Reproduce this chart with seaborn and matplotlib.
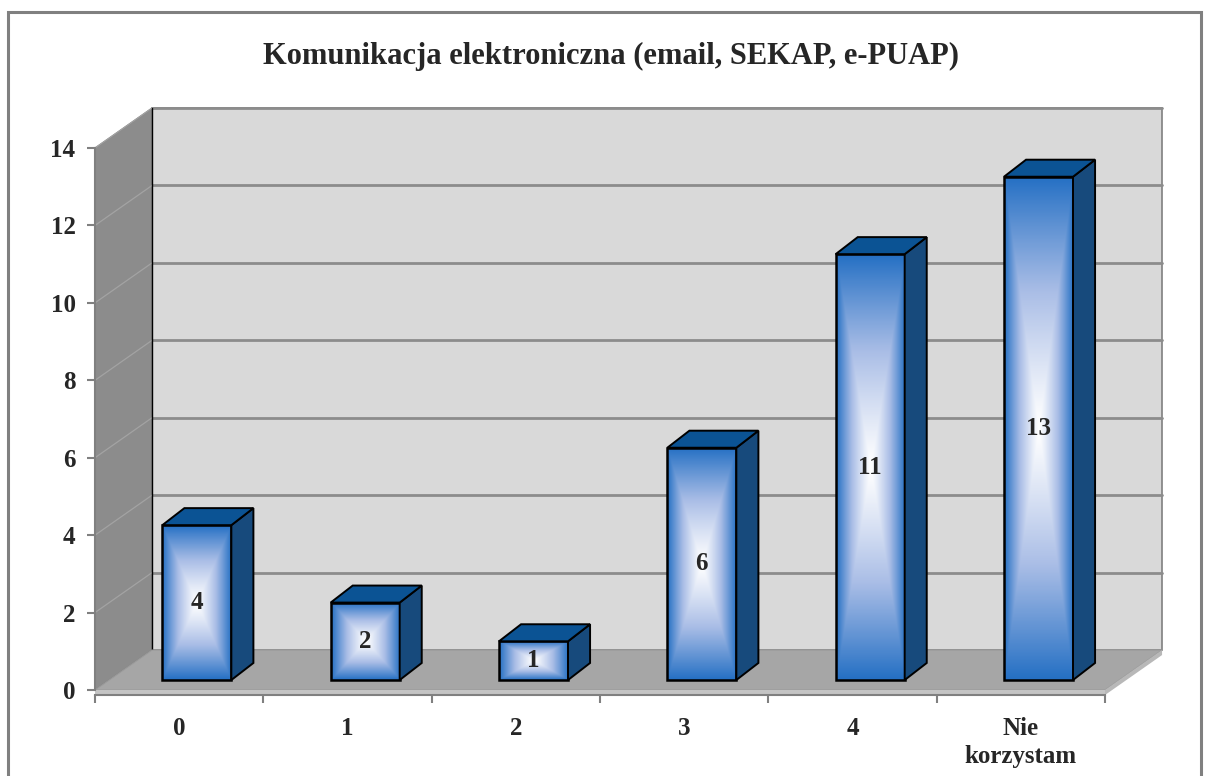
import numpy as np
import pandas as pd
import seaborn as sns
import matplotlib.pyplot as plt
from matplotlib.patches import Polygon, Rectangle
from matplotlib.colors import LinearSegmentedColormap

# data
categories = ["0", "1", "2", "3", "4", "Nie\nkorzystam"]
values = [4, 2, 1, 6, 11, 13]
y_ticks = [0, 2, 4, 6, 8, 10, 12, 14]
title = "Komunikacja elektroniczna (email, SEKAP, e-PUAP)"

sns.set_theme(style="white")
plt.rcParams['font.family'] = ['Liberation Serif', 'DejaVu Serif']
plt.rcParams['font.weight'] = 'bold'

W, H = 1206, 776
fig = plt.figure(figsize=(W / 100, H / 100), dpi=100)
ax = fig.add_axes([95 / W, 86 / H, 1010 / W, 542 / H])
ax.set_facecolor('none')

df = pd.DataFrame({"cat": categories, "val": values})
sns.barplot(data=df, x="cat", y="val", width=0.41, color="#1f6cc1", ax=ax)
bars = list(ax.patches)

# fake 3d geometry in data units
wdx, wdy = 0.339, 1.033    # wall depth
fx, fy = 0.105, 0.258      # bar front offset
bdx, bdy = 0.131, 0.44     # bar depth
slab = 0.13

# walls and floor
ax.add_patch(Rectangle((-0.5 + wdx, wdy), 6, 14, fc="#d9d9d9", ec="#7f7f7f",
                       lw=1.2, clip_on=False, zorder=0.2))
ax.add_patch(Polygon([(-0.5, 0), (-0.5, 14), (-0.5 + wdx, 14 + wdy), (-0.5 + wdx, wdy)],
                     fc="#8c8c8c", ec="#7a7a7a", lw=0.8, clip_on=False, zorder=0.3))
for v in y_ticks[1:]:
    ax.plot([-0.5 + wdx, 5.5 + wdx], [v + wdy, v + wdy], color="#8c8c8c", lw=2,
            clip_on=False, zorder=0.25)
    ax.plot([-0.5, -0.5 + wdx], [v, v + wdy], color="#a3a3a3", lw=0.9,
            clip_on=False, zorder=0.35)
ax.plot([-0.5 + wdx, -0.5 + wdx], [wdy, 14 + wdy], color="black", lw=1,
        clip_on=False, zorder=0.36)
ax.add_patch(Polygon([(-0.5, 0), (5.5, 0), (5.5 + wdx, wdy), (-0.5 + wdx, wdy)],
                     fc="#a6a6a6", ec="#9a9a9a", lw=0.8, clip_on=False, zorder=0.4))
ax.add_patch(Polygon([(-0.5, -slab), (5.5, -slab), (5.5, 0), (-0.5, 0)],
                     fc="#c4c4c4", ec="none", clip_on=False, zorder=0.4))
ax.add_patch(Polygon([(5.5, -slab), (5.5 + wdx, wdy - slab), (5.5 + wdx, wdy), (5.5, 0)],
                     fc="#b8b8b8", ec="none", clip_on=False, zorder=0.4))

# bars with rectangular "from center" gradient
cmap = LinearSegmentedColormap.from_list("bar", ["#ffffff", "#a9bde6", "#2570c4"])
uu, vv = np.meshgrid(np.linspace(-1, 1, 80), np.linspace(-1, 1, 300))
grad = np.maximum(np.abs(uu), np.abs(vv)) ** 1.15

for p, v in zip(bars, values):
    x0 = p.get_x() + fx
    w = p.get_width()
    y0 = fy
    h = p.get_height()
    p.set_x(x0)
    p.set_y(y0)
    p.set_facecolor("none")
    p.set_edgecolor("black")
    p.set_linewidth(1.8)
    p.set_zorder(4)
    p.set_clip_on(False)
    ax.imshow(grad, extent=(x0, x0 + w, y0, y0 + h), cmap=cmap, vmin=0, vmax=1,
              aspect="auto", interpolation="bilinear", zorder=3, clip_on=False)
    ax.add_patch(Polygon([(x0 + w, y0), (x0 + w + bdx, y0 + bdy),
                          (x0 + w + bdx, y0 + h + bdy), (x0 + w, y0 + h)],
                         fc="#174a7c", ec="black", lw=1.4, clip_on=False, zorder=4))
    ax.add_patch(Polygon([(x0, y0 + h), (x0 + bdx, y0 + h + bdy),
                          (x0 + w + bdx, y0 + h + bdy), (x0 + w, y0 + h)],
                         fc="#0b5394", ec="black", lw=1.4, clip_on=False, zorder=4))
    ax.text(x0 + w / 2, y0 + h / 2, str(v), ha="center", va="center",
            fontsize=18, fontweight="bold", zorder=5)

# axes
ax.set_xlim(-0.5, 5.5)
ax.set_ylim(0, 14)
ax.set_yticks(y_ticks)
ax.set_xticks(range(len(categories)))
ax.set_xticklabels(categories)
ax.set_xticks(np.arange(-0.5, len(categories)), minor=True)
ax.set_xlabel("")
ax.set_ylabel("")
ax.grid(False)
ax.spines["top"].set_visible(False)
ax.spines["right"].set_visible(False)
ax.spines["left"].set_color("#808080")
ax.spines["left"].set_linewidth(1.5)
ax.spines["bottom"].set_color("#808080")
ax.spines["bottom"].set_linewidth(1.5)
ax.spines["bottom"].set_position(("data", -slab))
ax.tick_params(axis="x", which="major", length=0, pad=16, labelsize=18)
ax.tick_params(axis="x", which="minor", length=6, width=1.5, color="#808080",
               direction="out", bottom=True)
ax.tick_params(axis="y", length=6, width=1.5, color="#808080", direction="out",
               left=True, pad=8, labelsize=18)
for lbl in ax.get_xticklabels() + ax.get_yticklabels():
    lbl.set_fontweight("bold")
for lbl in ax.get_xticklabels():
    lbl.set_linespacing(1.25)

# outer chart frame and title
fig.add_artist(Rectangle((8 / W, -0.05), (1201 - 8) / W, (776 - 12) / H + 0.05,
                         transform=fig.transFigure, fill=False, ec="#808080", lw=2.2))
fig.text(611 / W, 1 - 56 / H, title, ha="center", va="center",
         fontsize=22, fontweight="bold")

fig.savefig("out.png", dpi=100)
